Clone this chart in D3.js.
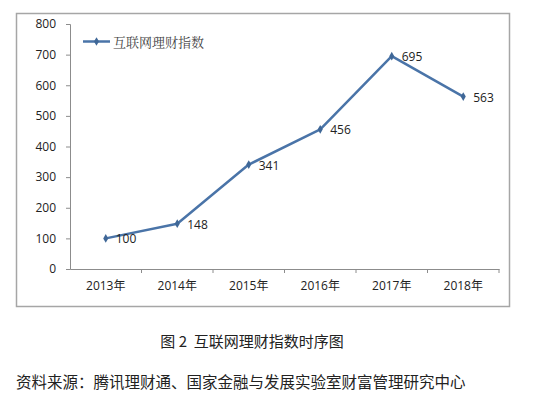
<!DOCTYPE html>
<html>
<head>
<meta charset="utf-8">
<script src="https://cdn.jsdelivr.net/npm/d3@7"></script>
<style>
  body { margin: 0; background: #fff; }
  svg { display: block; }
</style>
</head>
<body>
<div id="chart"></div>
<script>
// data
const years = ["2013年", "2014年", "2015年", "2016年", "2017年", "2018年"];
const indexValues = [100, 148, 341, 456, 695, 563];
const yTicks = [0, 100, 200, 300, 400, 500, 600, 700, 800];
const seriesName = "互联网理财指数";
const caption = "图 2  互联网理财指数时序图";
const source = "资料来源：腾讯理财通、国家金融与发展实验室财富管理研究中心";

const width = 540, height = 398;
const margin = { top: 24, right: 41, bottom: 129, left: 70 };
const innerWidth = width - margin.left - margin.right;
const innerHeight = height - margin.top - margin.bottom;
const lineColor = "#4a74a8";
const axisColor = "#8c8c8c";
const numFont = "'Open Sans', 'Noto Sans', 'Noto Sans CJK SC', sans-serif";
const cjkFont = "'Noto Sans CJK SC', sans-serif";

const svg = d3.select("#chart").append("svg")
    .attr("width", width)
    .attr("height", height);

// outer chart frame
svg.append("rect")
    .attr("x", 16.5).attr("y", 13.5)
    .attr("width", 493).attr("height", 293)
    .attr("fill", "#fff")
    .attr("stroke", "#a6a6a6")
    .attr("stroke-width", 1.5);

const root = svg.append("g")
    .attr("transform", `translate(${margin.left},${margin.top})`);

// scales
const x = d3.scaleBand().domain(years).range([0, innerWidth]);
const y = d3.scaleLinear().domain([0, 800]).range([innerHeight, 0]);

// y axis
const yAxis = root.append("g")
    .call(d3.axisLeft(y).tickValues(yTicks).tickSize(4).tickPadding(10));
yAxis.select(".domain").attr("stroke", axisColor);
yAxis.selectAll(".tick line").attr("stroke", axisColor);
yAxis.selectAll("text")
    .attr("fill", "#222")
    .style("font-family", numFont)
    .style("font-size", "12px");

// x axis, ticks sit on band edges like Excel
const xAxis = root.append("g")
    .attr("transform", `translate(0,${innerHeight})`)
    .call(d3.axisBottom(x).tickSize(0).tickPadding(12).tickSizeOuter(0));
xAxis.select(".domain").attr("stroke", axisColor);
xAxis.selectAll("text")
    .attr("fill", "#222")
    .style("font-family", numFont)
    .style("font-size", "12px");
const edges = years.map(d => x(d) + x.bandwidth());
xAxis.selectAll(".edge")
    .data(edges)
    .enter()
    .append("line")
    .attr("x1", d => d).attr("x2", d => d)
    .attr("y1", 0).attr("y2", 4)
    .attr("stroke", axisColor);

// series line
const pts = years.map((d, i) => ({ year: d, value: indexValues[i] }));
const line = d3.line()
    .x(d => x(d.year) + x.bandwidth() / 2)
    .y(d => y(d.value));

root.append("path")
    .datum(pts)
    .attr("fill", "none")
    .attr("stroke", lineColor)
    .attr("stroke-width", 2.5)
    .attr("stroke-linejoin", "round")
    .attr("d", line);

// diamond markers
const diamond = d3.symbol().type(d3.symbolDiamond).size(22);
root.selectAll(".pt")
    .data(pts)
    .enter()
    .append("path")
    .attr("class", "pt")
    .attr("d", diamond)
    .attr("transform", d => `translate(${x(d.year) + x.bandwidth() / 2},${y(d.value)})`)
    .attr("fill", "#3f6797");

// data labels
root.selectAll(".lbl")
    .data(pts)
    .enter()
    .append("text")
    .attr("x", d => x(d.year) + x.bandwidth() / 2 + 10)
    .attr("y", d => y(d.value) + 5)
    .attr("fill", "#222")
    .style("font-family", numFont)
    .style("font-size", "12px")
    .text(d => d.value);

// legend
const legend = svg.append("g").attr("transform", "translate(83,41.5)");
legend.append("line")
    .attr("x1", 0).attr("x2", 27)
    .attr("stroke", lineColor)
    .attr("stroke-width", 2.5);
legend.append("path")
    .attr("d", diamond)
    .attr("transform", "translate(13.5,0)")
    .attr("fill", "#3f6797");
legend.append("text")
    .attr("x", 30).attr("y", 5)
    .attr("fill", "#444")
    .style("font-family", "'Noto Serif CJK SC', 'Noto Sans CJK SC', serif")
    .style("font-size", "13px")
    .text(seriesName);

// caption and source below the frame
svg.append("text")
    .attr("x", 252).attr("y", 347)
    .attr("text-anchor", "middle")
    .attr("fill", "#222")
    .style("font-family", cjkFont)
    .style("font-size", "15px")
    .style("white-space", "pre")
    .text(caption);

svg.append("text")
    .attr("x", 16).attr("y", 388)
    .attr("fill", "#222")
    .style("font-family", cjkFont)
    .style("font-size", "15.5px")
    .text(source);
</script>
</body>
</html>
